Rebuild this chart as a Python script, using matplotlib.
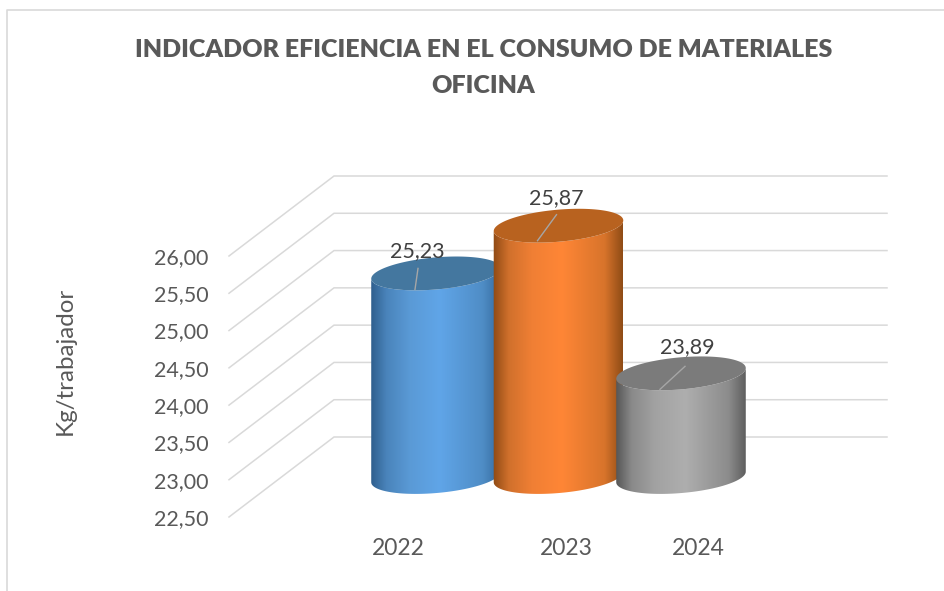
import numpy as np
import matplotlib
matplotlib.use("Agg")
import matplotlib.pyplot as plt
from matplotlib.colors import LinearSegmentedColormap
from matplotlib.lines import Line2D
from matplotlib.patches import PathPatch, Polygon
from matplotlib.path import Path

# ---- data ----
categories = ["2022", "2023", "2024"]
values = [25.23, 25.87, 23.89]
value_labels = ["25,23", "25,87", "23,89"]
y_ticks = [22.5, 23.0, 23.5, 24.0, 24.5, 25.0, 25.5, 26.0]
y_tick_labels = ["22,50", "23,00", "23,50", "24,00", "24,50", "25,00", "25,50", "26,00"]
title = "INDICADOR EFICIENCIA EN EL CONSUMO DE MATERIALES\nOFICINA"
y_title = "Kg/trabajador"

# ---- styles ----
stops = [0.0, 0.12, 0.30, 0.53, 0.86, 1.0]
shades = [
    ["#2f5f8e", "#4a84bb", "#5a9ad6", "#60a5e8", "#4f8dc6", "#346a9c"],
    ["#8f4a14", "#d0702c", "#f07f34", "#ff8636", "#d8742b", "#8f4c16"],
    ["#565656", "#8a8a8a", "#a2a2a2", "#aeaeae", "#8c8c8c", "#5c5c5c"],
]
top_colours = ["#44779f", "#b8621f", "#7b7b7b"]
TEXT = "#595959"
GRID = "#d9d9d9"
FONT = "Lato"

W, H = 945, 591
fig = plt.figure(figsize=(W / 100, H / 100), dpi=100, facecolor="white")

# front plane of the 3-D box, in pixels
L, R, T, B = 229, 782, 256, 517
ax = fig.add_axes([L / W, 1 - B / H, (R - L) / W, (B - T) / H])
ax.set_facecolor("none")
for s in ax.spines.values():
    s.set_visible(False)

STEP = 122.5                         # px per category
X0 = 384.0                           # px of the first category on the front plane
px_x = 1.0 / STEP                    # data units per px, x
px_y = (y_ticks[-1] - y_ticks[0]) / (B - T)  # data units per px, y
xlim = ((L - X0) * px_x, (R - X0) * px_x)
ylim = (y_ticks[0], y_ticks[-1])

DEPTH_X, DEPTH_Y = 105 * px_x, 80 * px_y

# gridlines and walls
for v in y_ticks:
    ax.plot([xlim[0], xlim[0] + DEPTH_X, xlim[1] + DEPTH_X],
            [v, v + DEPTH_Y, v + DEPTH_Y],
            color=GRID, lw=1.1, clip_on=False, zorder=1, solid_joinstyle="miter")

A, C, THETA = 65.0, 16.0, np.radians(5.0)   # ellipse semi-axes, tilt (px)


def ellipse(cx, cy, t):
    ox = A * np.cos(t) * np.cos(THETA) - C * np.sin(t) * np.sin(THETA)
    oy = A * np.cos(t) * np.sin(THETA) + C * np.sin(t) * np.cos(THETA)
    return np.column_stack([cx + ox * px_x, cy + oy * px_y])


t0 = np.arctan(-C * np.sin(THETA) / (A * np.cos(THETA)))
lower = np.linspace(t0 + np.pi, t0 + 2 * np.pi, 80)
full = np.linspace(0, 2 * np.pi, 160)

label_offsets = [(-19, 22), (-2, 28), (6, 26)]
leader_from = [(-21, -16), (-21, -15), (-21, -16)]
leader_to = [(-18, 5), (-2, 11), (4, 7)]

for i, (v, shade, topc, lab) in enumerate(zip(values, shades, top_colours, value_labels)):
    cx = i + 52 * px_x
    base = y_ticks[0] + DEPTH_Y / 2
    top = v + DEPTH_Y / 2
    z = 3 + i * 2
    poly = np.vstack([ellipse(cx, base, lower), ellipse(cx, top, lower[::-1])])
    clip = PathPatch(Path(np.vstack([poly, poly[0]]), closed=True),
                     transform=ax.transData, fc="none", ec="none")
    cmap = LinearSegmentedColormap.from_list("c", list(zip(stops, shade)))
    grad = cmap(np.linspace(0, 1, 256))[None, :, :]
    hw = 65 * px_x
    im = ax.imshow(grad, extent=(cx - hw, cx + hw, base - 20 * px_y, top + 20 * px_y),
                   aspect="auto", interpolation="bilinear", zorder=z, origin="lower")
    im.set_clip_path(clip)
    im.set_clip_box(fig.bbox)
    ax.add_patch(Polygon(ellipse(cx, top, full), closed=True, fc=topc, ec="none",
                         clip_on=False, zorder=z + 0.5))
    (x1, y1), (x2, y2) = leader_from[i], leader_to[i]
    ax.plot([cx + x1 * px_x, cx + x2 * px_x], [top + y1 * px_y, top + y2 * px_y],
            color="#a6a6a6", lw=1.0, clip_on=False, zorder=20)
    ox, oy = label_offsets[i]
    ax.text(cx + ox * px_x, top + oy * px_y, lab, ha="center", va="center",
            fontsize=15.5, color="#404040", family=FONT, zorder=21, clip_on=False)

ax.set_xlim(*xlim)
ax.set_ylim(*ylim)
ax.set_yticks(y_ticks, y_tick_labels, family=FONT, fontsize=15.5, color=TEXT)
# category labels sit off the cylinder centres in the reference
ax.set_xticks([0.114, 1.486, 2.563], categories, family=FONT, fontsize=16.5, color=TEXT)
ax.tick_params(axis="y", length=0, pad=15)
ax.tick_params(axis="x", length=0, pad=15)

fig.text(65 / W, 1 - 361 / H, y_title, rotation=90, ha="center", va="center",
         family=FONT, fontsize=17.4, color=TEXT)
fig.text(483.5 / W, 1 - 68 / H, title, ha="center", va="center", family=FONT,
         fontweight="heavy", fontsize=18, color=TEXT, linespacing=1.75)

# chart-area border (left and top only are in view)
fig.add_artist(Line2D([7 / W, 7 / W, 1], [0, 1 - 10 / H, 1 - 10 / H],
                      transform=fig.transFigure, color=GRID, lw=1.2))

fig.savefig("out.png", dpi=100)
